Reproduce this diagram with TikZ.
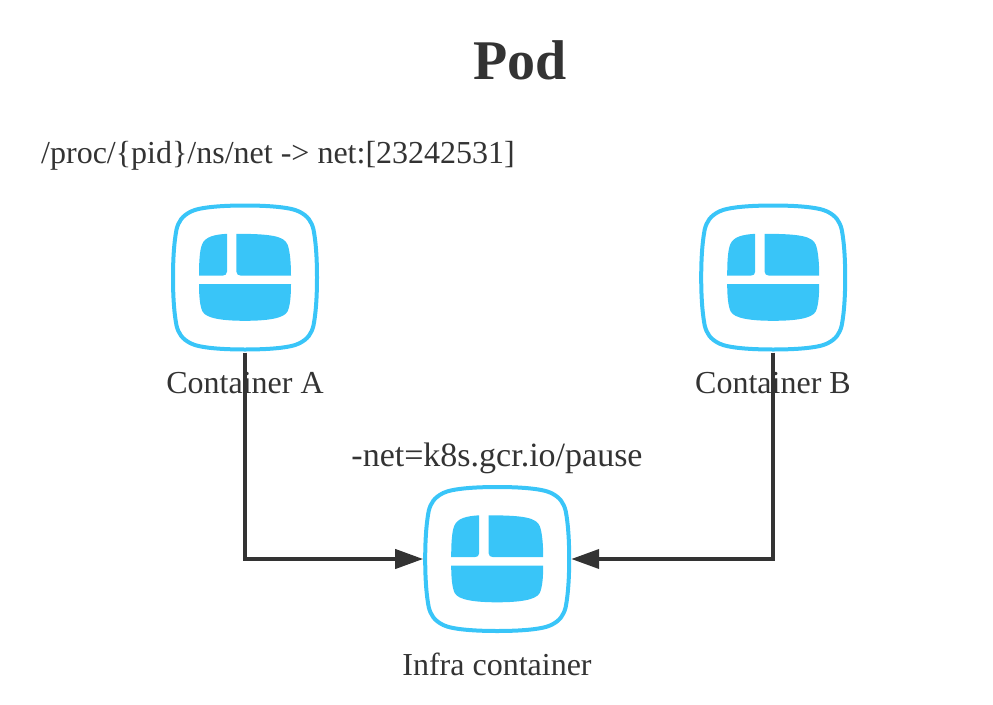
\documentclass[tikz,border=0pt]{standalone}
\usepackage{fontspec}
\setmainfont{Liberation Serif}
\usetikzlibrary{arrows.meta}
\definecolor{iconblue}{HTML}{39C5F8}
\definecolor{ink}{HTML}{333333}
\tikzset{
  x=1pt,y=-1pt,
  label text/.style={text=ink,font=\fontsize{32}{38}\selectfont,inner sep=0pt,anchor=base},
  hub/.style={minimum width=148pt,minimum height=150pt,inner sep=0pt,outer sep=0pt},
  link/.style={draw=ink,line width=4pt,line join=miter,-{Triangle[length=28pt,width=19pt,color=ink]}},
  pics/podicon/.style={code={
    \draw[iconblue,line width=4pt]
      (0,-72) .. controls (22,-72) and (45,-70.5) .. (54,-66)
      .. controls (63,-61.5) and (66.5,-56) .. (68.5,-48)
      .. controls (71,-35) and (72,-18) .. (72,0)
      .. controls (72,18) and (71,35) .. (68.5,48)
      .. controls (66.5,56) and (63,61.5) .. (54,66)
      .. controls (45,70.5) and (22,72) .. (0,72)
      .. controls (-22,72) and (-45,70.5) .. (-54,66)
      .. controls (-63,61.5) and (-66.5,56) .. (-68.5,48)
      .. controls (-71,35) and (-72,18) .. (-72,0)
      .. controls (-72,-18) and (-71,-35) .. (-68.5,-48)
      .. controls (-66.5,-56) and (-63,-61.5) .. (-54,-66)
      .. controls (-45,-70.5) and (-22,-72) .. (0,-72) -- cycle;
    \fill[iconblue] (-18,-43.7) -- (-18,-6) .. controls (-18,-3) and (-20,-2) .. (-22,-2)
      -- (-46,-2) .. controls (-46,-14) and (-45.5,-27) .. (-43,-33)
      .. controls (-40,-41) and (-30,-43) .. (-18,-43.7) -- cycle;
    \fill[iconblue] (-8.7,-43.7) -- (-8.7,-6) .. controls (-8.7,-3) and (-6.5,-2) .. (-4.5,-2)
      -- (46,-2) .. controls (46,-14) and (45,-27) .. (42.5,-33)
      .. controls (39,-41) and (28,-43.7) .. (-8.7,-43.7) -- cycle;
    \fill[iconblue] (-46,6.7) -- (46,6.7) .. controls (46,19) and (45,29) .. (42.5,34)
      .. controls (39,41) and (22,43.3) .. (0,43.3)
      .. controls (-22,43.3) and (-39,41) .. (-42.5,34)
      .. controls (-45,29) and (-46,19) .. (-46,6.7) -- cycle;
  }}
}
\begin{document}
\begin{tikzpicture}
\useasboundingbox (0,0) rectangle (993,704);
\node[label text,font=\fontsize{56}{60}\selectfont\bfseries] (title) at (520,79) {Pod};
\node[label text,anchor=base west] (path) at (41,163) {/proc/\{pid\}/ns/net -> net:[23242531]};
\node[hub] (a) at (245,277.5) {};
\node[hub] (b) at (773.2,277.5) {};
\node[hub] (c) at (497.2,559) {};
\pic at (a.center) {podicon};
\pic at (b.center) {podicon};
\pic at (c.center) {podicon};
\node[label text] (la) at (245,393) {Container A};
\node[label text] (lb) at (773,393) {Container B};
\node[label text,font=\fontsize{34}{38}\selectfont] (ln) at (497,466) {-net=k8s.gcr.io/pause};
\node[label text] (lc) at (497,675) {Infra container};
\draw[link] (a.south) |- (c.west);
\draw[link] (b.south) |- (c.east);
\end{tikzpicture}
\end{document}
